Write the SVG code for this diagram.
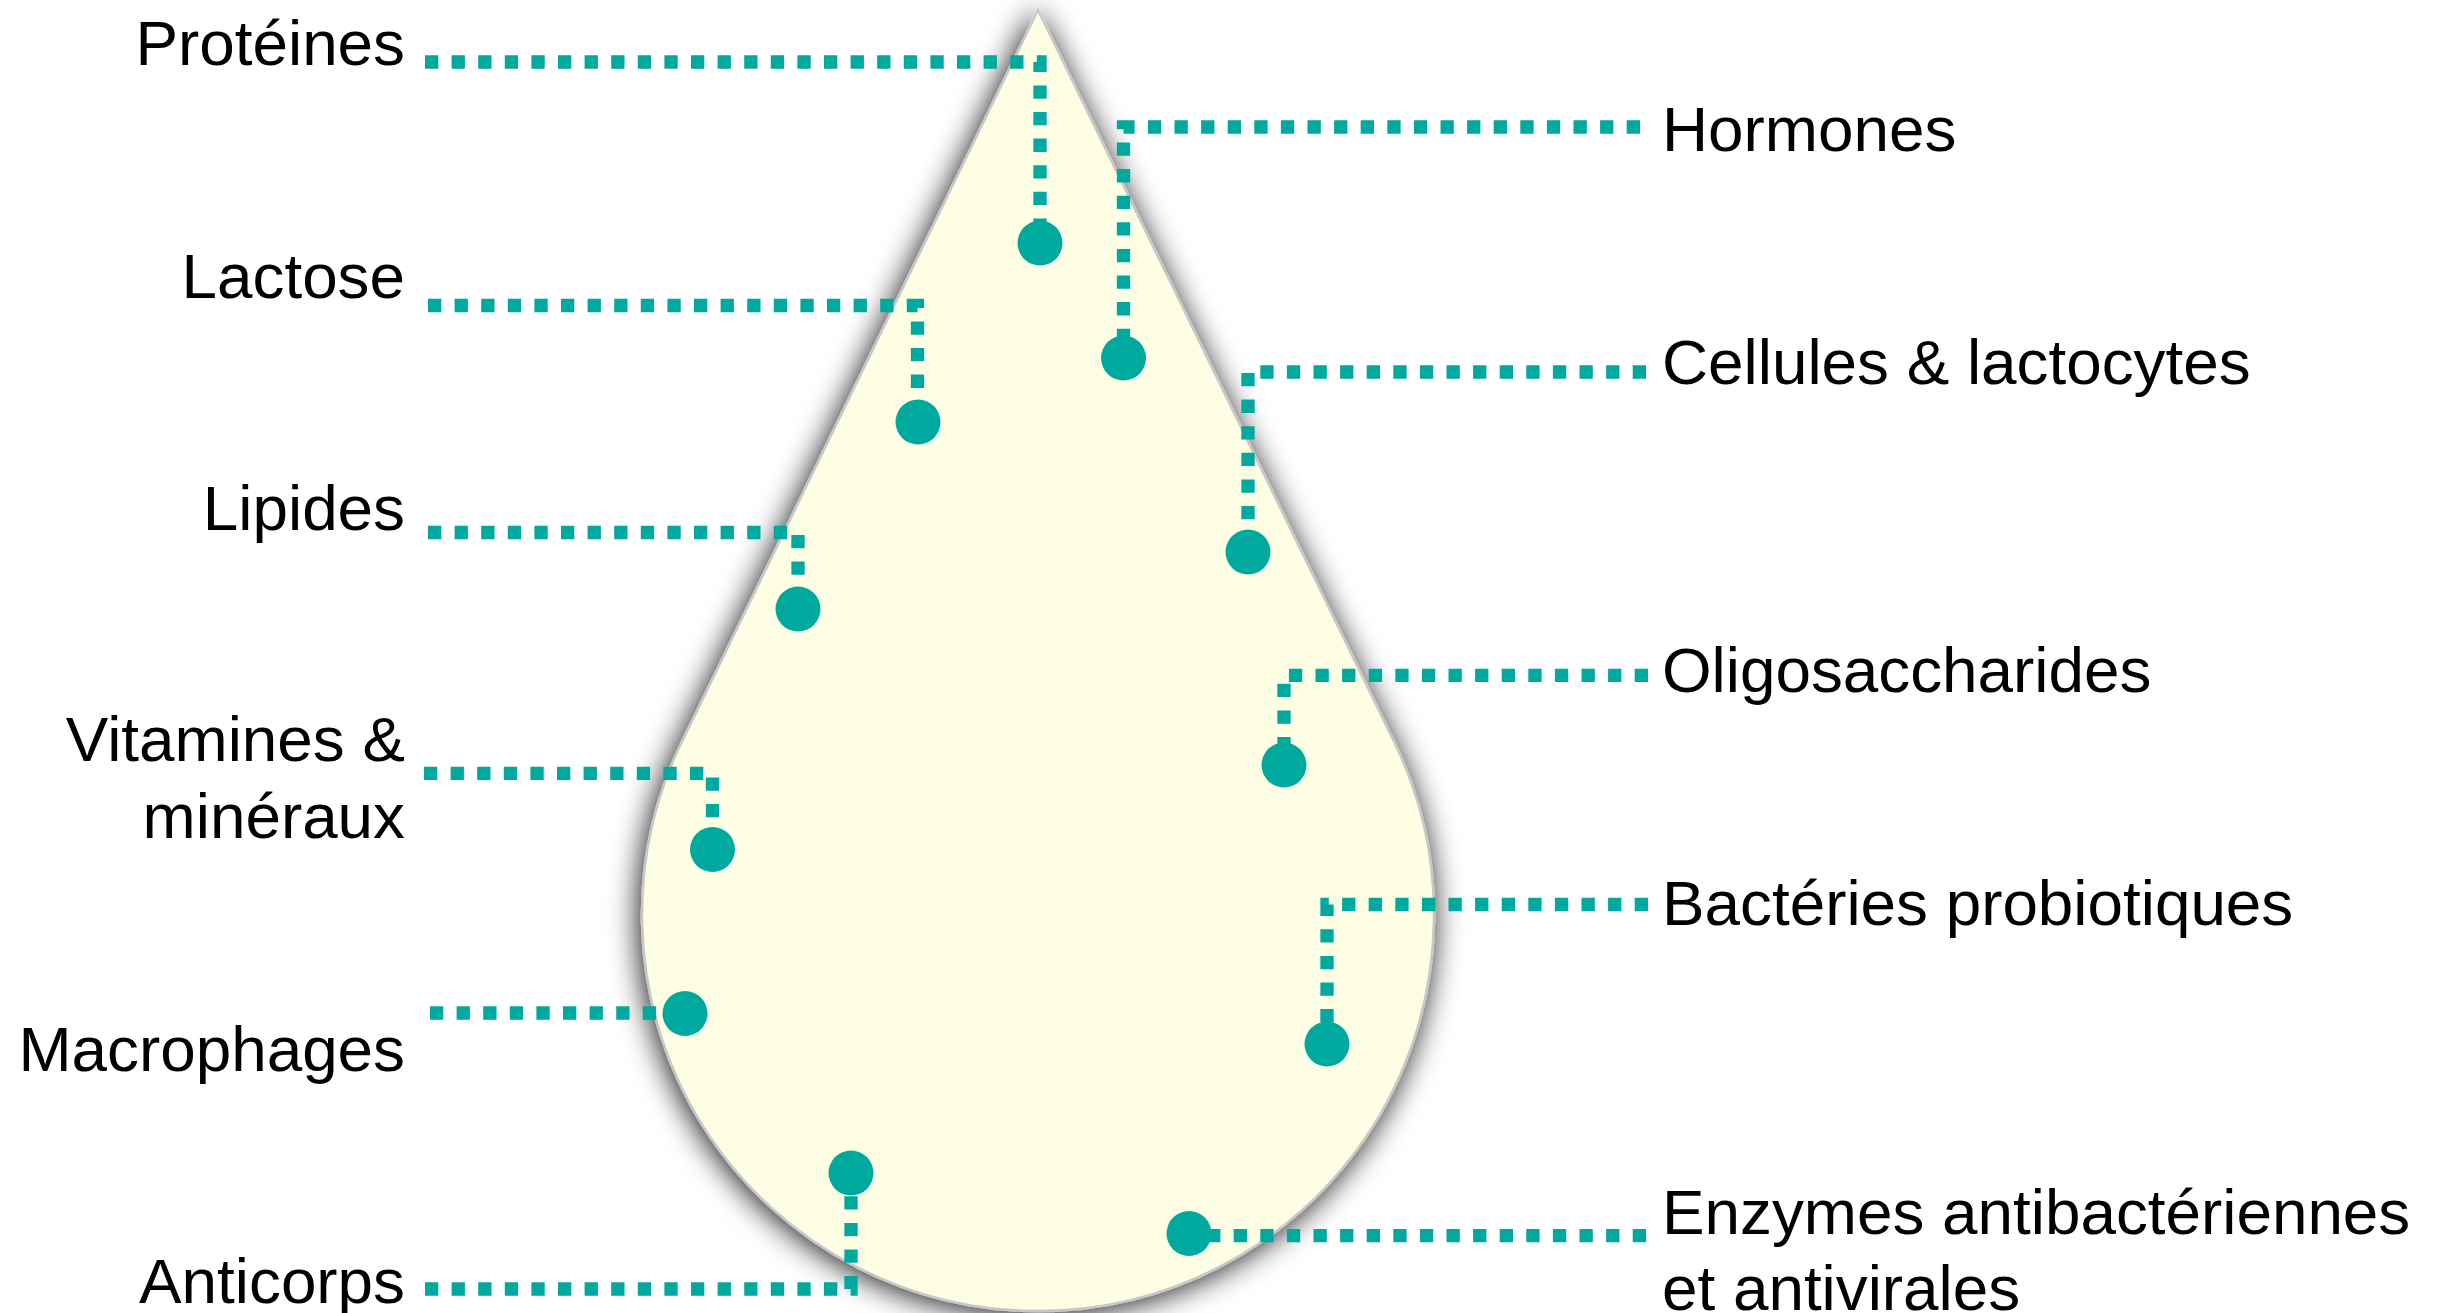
<svg xmlns="http://www.w3.org/2000/svg" width="2444" height="1313" viewBox="0 0 2444 1313">
<style>
.lbl{font-family:"Liberation Sans",Arial,sans-serif;font-size:63.8px;fill:#000}
.l{text-anchor:end}
.conn{fill:none;stroke:#00A99D;stroke-width:13.3;stroke-dasharray:13.3 13.3;stroke-linecap:butt;stroke-linejoin:miter}
.dot{fill:#00A99D}
</style>
<defs>
<filter id="shadow" x="-20%" y="-10%" width="140%" height="120%">
<feGaussianBlur in="SourceAlpha" stdDeviation="15" result="b"/>
<feOffset in="b" dx="-2" dy="3" result="o"/>
<feFlood flood-color="#000" flood-opacity="0.9"/>
<feComposite in2="o" operator="in" result="s"/>
<feMerge><feMergeNode in="s"/><feMergeNode in="SourceGraphic"/></feMerge>
</filter>
</defs>
<rect width="2444" height="1313" fill="#fff"/>
<g id="drop">
<path d="M1038 10 L681.9 741.8 A396 396 0 1 0 1394.1 741.8 Z" fill="#FEFEE4" stroke="#C8C8C8" stroke-width="2.5" filter="url(#shadow)"/>
</g>
<g id="connectors">
<path class="conn" d="M425 62 H1040 V243"/>
<path class="conn" d="M428 305.5 H917.5 V422"/>
<path class="conn" d="M428 532.5 H798 V609"/>
<path class="conn" d="M424 773.3 H712.5 V849.5"/>
<path class="conn" d="M430 1013 H685"/>
<path class="conn" d="M425 1289 H851 V1173"/>
<path class="conn" d="M1640 127 H1123.5 V358"/>
<path class="conn" d="M1646 372 H1248 V552"/>
<path class="conn" d="M1648 675.4 H1284 V765"/>
<path class="conn" d="M1648 904.5 H1327 V1044"/>
<path class="conn" d="M1646 1235.6 H1189"/>
</g>
<g id="proteines"><circle class="dot" cx="1040" cy="243" r="22.5"/><text class="lbl l" x="405" y="65">Protéines</text></g>
<g id="lactose"><circle class="dot" cx="918" cy="422" r="22.5"/><text class="lbl l" x="405" y="298">Lactose</text></g>
<g id="lipides"><circle class="dot" cx="798" cy="609" r="22.5"/><text class="lbl l" x="405" y="530">Lipides</text></g>
<g id="vitamines"><circle class="dot" cx="712.5" cy="849.5" r="22.5"/><text class="lbl l" x="405" y="761">Vitamines &amp;<tspan x="405" y="838">minéraux</tspan></text></g>
<g id="macrophages"><circle class="dot" cx="685" cy="1013.5" r="22.5"/><text class="lbl l" x="405" y="1071">Macrophages</text></g>
<g id="anticorps"><circle class="dot" cx="851" cy="1173" r="22.5"/><text class="lbl l" x="405" y="1303">Anticorps</text></g>
<g id="hormones"><circle class="dot" cx="1123.5" cy="358" r="22.5"/><text class="lbl" x="1662" y="151">Hormones</text></g>
<g id="cellules"><circle class="dot" cx="1248" cy="552" r="22.5"/><text class="lbl" x="1662" y="384">Cellules &amp; lactocytes</text></g>
<g id="oligosaccharides"><circle class="dot" cx="1284" cy="765" r="22.5"/><text class="lbl" x="1662" y="692">Oligosaccharides</text></g>
<g id="bacteries"><circle class="dot" cx="1327" cy="1044" r="22.5"/><text class="lbl" x="1662" y="925">Bactéries probiotiques</text></g>
<g id="enzymes"><circle class="dot" cx="1189" cy="1233.5" r="22.5"/><text class="lbl" x="1662" y="1233.5">Enzymes antibactériennes<tspan x="1662" y="1309.5">et antivirales</tspan></text></g>
</svg>
